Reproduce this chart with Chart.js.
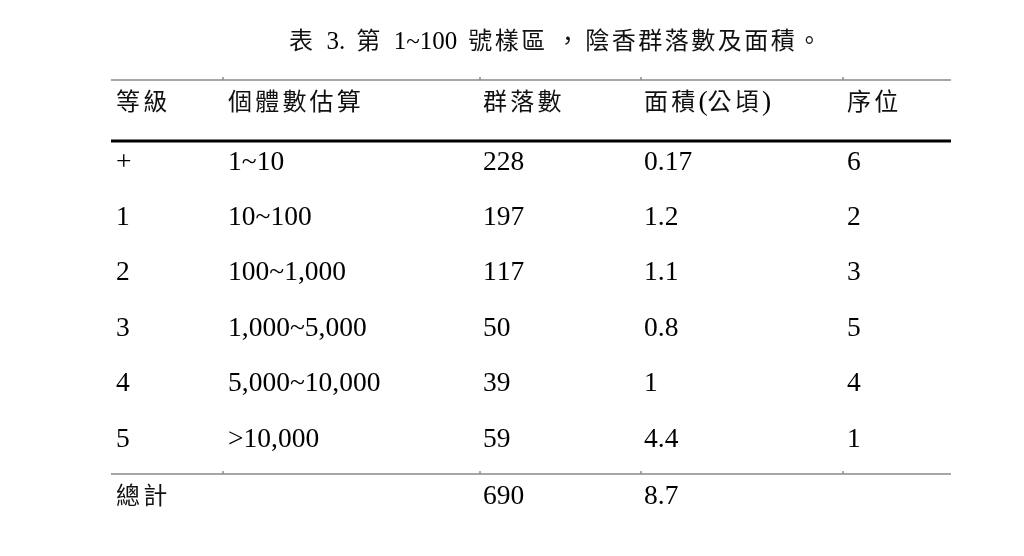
<!DOCTYPE html>
<html>
<head>
<meta charset="utf-8">
<script src="https://cdn.jsdelivr.net/npm/chart.js@4/dist/chart.umd.min.js"></script>
<style>
  html, body { margin: 0; padding: 0; background: #fff; }
  canvas { display: block; }
</style>
</head>
<body>
<canvas id="tableChart" width="1024" height="556"></canvas>
<script>
// Table data
const title = "表 3. 第 1~100 號樣區，陰香群落數及面積。";
const headers = ["等級", "個體數估算", "群落數", "面積(公頃)", "序位"];
const grades = ["+", "1", "2", "3", "4", "5"];
const ranges = ["1~10", "10~100", "100~1,000", "1,000~5,000", "5,000~10,000", ">10,000"];
const colonies = [228, 197, 117, 50, 39, 59];
const areas = [0.17, 1.2, 1.1, 0.8, 1, 4.4];
const ranks = [6, 2, 3, 5, 4, 1];
const totalLabel = "總計";
const totalColonies = 690;
const totalArea = 8.7;

// Layout in scale units (x: 0..840 across the rules, y: down from top rule)
const colX = [5, 117, 372, 533, 736];
const headerY = 20;
const rowY = [80, 135, 190, 246, 301, 357];
const totalY = 414;
const titleY = -40;
const titleLeftX = 178;
const ruleTicks = [112, 369, 530, 732];

const CJK = /[\u2E80-\u9FFF\uF900-\uFAFF\uFE30-\uFE4F\uFF00-\uFFEF\u3000-\u303F]/;

// draws (or only measures) text mixing a serif latin face and a CJK face
function drawMixed(ctx, text, x, baseline, o, draw) {
  for (const ch of text) {
    if (ch === " ") {
      x += o.space;
    } else if (CJK.test(ch)) {
      ctx.font = o.cjkFont;
      ctx.fillStyle = "#111";
      const isComma = ch === "，";
      if (draw) ctx.fillText(ch, x + (isComma ? o.commaShift : 0), baseline);
      x += isComma ? o.commaAdv : o.cjkAdv;
    } else {
      ctx.font = o.latinFont;
      ctx.fillStyle = "#000";
      if (draw) ctx.fillText(ch, x, baseline);
      x += ctx.measureText(ch).width;
    }
  }
  return x;
}

const cellStyle = {
  latinFont: '27.5px "Liberation Serif", "Times New Roman", serif',
  cjkFont: '24px "Noto Sans CJK TC", "Noto Sans CJK SC", sans-serif',
  cjkAdv: 27.2, commaAdv: 27.2, commaShift: 0, space: 7
};
const titleStyle = {
  latinFont: '25px "Liberation Serif", "Times New Roman", serif',
  cjkFont: '24px "Noto Sans CJK TC", "Noto Sans CJK SC", sans-serif',
  cjkAdv: 26.5, commaAdv: 37.5, commaShift: 8, space: 11
};

// build cell points
const cells = [];
headers.forEach((h, c) => cells.push({ x: colX[c], y: headerY, text: h }));
grades.forEach((g, r) => {
  const row = [g, ranges[r], String(colonies[r]), String(areas[r]), String(ranks[r])];
  row.forEach((t, c) => cells.push({ x: colX[c], y: rowY[r], text: t }));
});
[totalLabel, "", String(totalColonies), String(totalArea), ""].forEach((t, c) => {
  if (t) cells.push({ x: colX[c], y: totalY, text: t });
});

function rule(y, color, width) {
  return {
    type: "line",
    data: [{ x: 0, y: y }, { x: 840, y: y }],
    borderColor: color,
    borderWidth: width,
    pointRadius: 0,
    clip: false
  };
}

const tableText = {
  id: "tableText",
  afterDatasetsDraw(chart) {
    const ctx = chart.ctx;
    const xs = chart.scales.x, ys = chart.scales.y;
    ctx.save();
    ctx.textAlign = "left";
    ctx.textBaseline = "alphabetic";
    // title
    drawMixed(ctx, title, xs.getPixelForValue(titleLeftX), ys.getPixelForValue(titleY) + 9, titleStyle, true);
    // cells
    const idx = chart.data.datasets.findIndex((d) => d.label === "cells");
    const meta = chart.getDatasetMeta(idx);
    meta.data.forEach((el, i) => {
      const t = chart.data.datasets[idx].data[i].text;
      drawMixed(ctx, t, el.x, el.y + 9.5, cellStyle, true);
    });
    ctx.restore();
  }
};

const ctx = document.getElementById("tableChart").getContext("2d");
new Chart(ctx, {
  type: "scatter",
  data: {
    datasets: [
      rule(0, "#8a8a8a", 1.5),
      rule(61, "#000", 3),
      rule(394, "#8a8a8a", 1.5),
      {
        label: "ticks",
        data: ruleTicks.map((x) => ({ x: x, y: -1.5 })).concat(ruleTicks.map((x) => ({ x: x, y: 392.5 }))),
        pointStyle: "line",
        rotation: 90,
        pointRadius: 1.5,
        borderColor: "#555",
        borderWidth: 1,
        clip: false
      },
      {
        label: "cells",
        data: cells,
        pointRadius: 0,
        clip: false
      }
    ]
  },
  options: {
    responsive: false,
    animation: false,
    events: [],
    layout: { padding: { left: 111, right: 73, top: 70, bottom: 36 } },
    scales: {
      x: { type: "linear", display: false, min: 0, max: 840 },
      y: { type: "linear", display: false, min: -10, max: 440, reverse: true }
    },
    plugins: {
      legend: { display: false },
      tooltip: { enabled: false }
    }
  },
  plugins: [tableText]
});
</script>
</body>
</html>
